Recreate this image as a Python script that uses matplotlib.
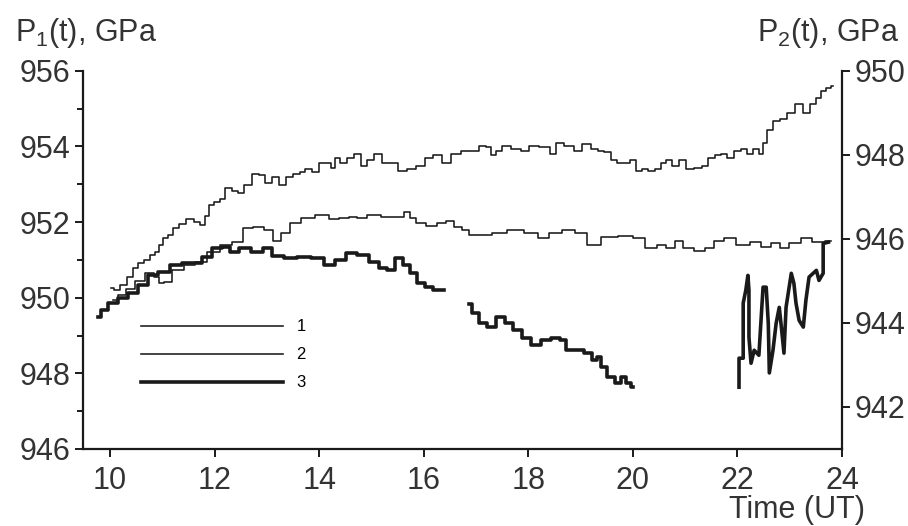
import matplotlib
matplotlib.use("Agg")
import matplotlib.pyplot as plt
import numpy as np

plt.rcParams["font.family"] = ["Liberation Sans", "DejaVu Sans"]
plt.rcParams["mathtext.fontset"] = "custom"
plt.rcParams["mathtext.rm"] = "Liberation Sans"
plt.rcParams["mathtext.it"] = "Liberation Sans"

INK = "#1a1a1a"
TXT = "#333333"

# curve 1, left scale (P1)
t1 = [10.02, 10.13, 10.25, 10.38, 10.48, 10.57, 10.71, 10.80, 10.90, 10.96,
      11.05, 11.15, 11.25, 11.38, 11.53, 11.67, 11.78, 11.86, 11.92, 12.07,
      12.15, 12.26, 12.39, 12.49, 12.64, 12.78, 12.91, 13.03, 13.16, 13.31,
      13.41, 13.58, 13.68, 13.79, 13.93, 14.06, 14.18, 14.27, 14.35, 14.46,
      14.60, 14.73, 14.85, 14.98, 15.13, 15.27, 15.42, 15.61, 15.75, 15.94,
      16.09, 16.26, 16.42, 16.61, 16.80, 16.99, 17.13, 17.24, 17.32, 17.43,
      17.57, 17.76, 17.95, 18.08, 18.33, 18.49, 18.58, 18.77, 18.97, 19.10,
      19.29, 19.39, 19.52, 19.64, 19.77, 19.90, 20.00, 20.10, 20.25, 20.34,
      20.50, 20.57, 20.69, 20.79, 20.96, 21.07, 21.25, 21.40, 21.49, 21.65,
      21.72, 21.88, 21.97, 22.16, 22.22, 22.39, 22.45, 22.51, 22.61, 22.74,
      22.87, 23.03, 23.18, 23.31, 23.45, 23.56, 23.64, 23.75, 23.83]
p1 = [950.25, 950.20, 950.33, 950.54, 950.78, 950.91, 950.99, 951.12, 951.20, 951.38,
      951.59, 951.65, 951.83, 951.96, 952.07, 951.99, 951.91, 952.17, 952.44, 952.52,
      952.62, 952.91, 952.83, 952.78, 952.97, 953.28, 953.23, 953.02, 953.18, 952.97,
      953.18, 953.28, 953.31, 953.41, 953.31, 953.57, 953.55, 953.44, 953.68, 953.57,
      953.70, 953.81, 953.49, 953.63, 953.81, 953.57, 953.55, 953.36, 953.39, 953.49,
      953.68, 953.76, 953.55, 953.81, 953.89, 953.89, 954.02, 953.97, 953.76, 953.89,
      954.02, 953.94, 953.89, 954.02, 953.97, 953.81, 954.10, 954.02, 953.89, 954.07,
      953.94, 953.89, 953.84, 953.63, 953.55, 953.57, 953.63, 953.36, 953.41, 953.36,
      953.41, 953.57, 953.63, 953.49, 953.63, 953.41, 953.44, 953.49, 953.68, 953.76,
      953.81, 953.68, 953.89, 953.94, 953.81, 953.94, 953.81, 954.10, 954.42, 954.68,
      954.73, 954.87, 955.13, 954.87, 955.13, 955.29, 955.47, 955.53, 955.60]

# curve 2, right scale (P2)
t2 = [10.06, 10.23, 10.38, 10.57, 10.77, 10.90, 10.96, 11.09, 11.28, 11.53,
      11.72, 11.97, 12.24, 12.43, 12.64, 12.84, 13.03, 13.20, 13.35, 13.54,
      13.77, 14.06, 14.31, 14.46, 14.66, 14.79, 15.04, 15.31, 15.56, 15.69,
      15.79, 15.90, 16.19, 16.32, 16.51, 16.65, 16.80, 16.93, 17.18, 17.43,
      17.76, 18.08, 18.28, 18.52, 18.77, 19.00, 19.25, 19.52, 19.90, 20.10,
      20.38, 20.54, 20.73, 20.88, 21.05, 21.30, 21.46, 21.63, 21.84, 22.11,
      22.36, 22.55, 22.74, 22.87, 23.12, 23.31, 23.56, 23.79]
p2 = [944.54, 944.66, 944.80, 944.99, 945.18, 945.09, 944.94, 944.97, 945.25, 945.37,
      945.44, 945.68, 945.85, 945.92, 946.25, 946.27, 946.20, 945.96, 946.15, 946.37,
      946.49, 946.56, 946.46, 946.49, 946.51, 946.49, 946.56, 946.51, 946.51, 946.63,
      946.49, 946.37, 946.30, 946.37, 946.42, 946.27, 946.20, 946.08, 946.08, 946.15,
      946.20, 946.13, 946.01, 946.13, 946.20, 946.13, 945.85, 946.04, 946.06, 946.01,
      945.77, 945.85, 945.77, 945.96, 945.77, 945.70, 945.77, 945.96, 946.01, 945.85,
      945.92, 945.80, 945.89, 945.77, 945.89, 946.01, 945.92, 945.96]

# curve 3, right scale (P2), recorded in three pieces
t3a = [9.77, 9.87, 10.06, 10.25, 10.44, 10.63, 10.82, 11.02, 11.28, 11.48,
       11.67, 11.86, 12.05, 12.24, 12.36, 12.55, 12.82, 13.01, 13.20, 13.45,
       13.70, 13.97, 14.21, 14.41, 14.60, 14.85, 15.04, 15.23, 15.36, 15.52,
       15.69, 15.80, 15.94, 16.09, 16.26, 16.38]
p3a = [944.14, 944.30, 944.47, 944.59, 944.71, 944.90, 945.14, 945.20, 945.37, 945.42,
       945.42, 945.56, 945.77, 945.80, 945.68, 945.77, 945.68, 945.77, 945.58, 945.54,
       945.56, 945.54, 945.37, 945.49, 945.66, 945.61, 945.44, 945.30, 945.25, 945.54,
       945.37, 945.18, 944.94, 944.85, 944.78, 944.78]
t3b = [16.86, 16.99, 17.13, 17.28, 17.47, 17.62, 17.80, 17.95, 18.14, 18.33,
       18.52, 18.68, 18.77, 18.97, 19.16, 19.29, 19.33, 19.44, 19.58, 19.73,
       19.83, 19.92, 20.00]
p3b = [944.44, 944.23, 943.99, 943.90, 944.14, 943.99, 943.83, 943.64, 943.47, 943.59,
       943.64, 943.59, 943.35, 943.35, 943.28, 943.11, 943.19, 942.95, 942.71, 942.57,
       942.71, 942.57, 942.47]
t3c = [22.03, 22.03, 22.11, 22.11, 22.16, 22.20, 22.22, 22.22, 22.26, 22.32,
       22.41, 22.49, 22.55, 22.59, 22.61, 22.68, 22.74, 22.80, 22.84, 22.89,
       22.93, 23.03, 23.08, 23.12, 23.18, 23.26, 23.31, 23.37, 23.51, 23.56,
       23.64, 23.64, 23.74]
p3c = [942.47, 943.16, 943.16, 944.47, 944.78, 945.13, 944.78, 943.66, 943.04, 943.35,
       943.23, 944.85, 944.85, 943.99, 942.81, 943.35, 943.99, 944.37, 943.90, 943.28,
       944.37, 945.18, 944.94, 944.47, 944.06, 943.90, 944.54, 945.09, 945.25, 945.01,
       945.18, 945.89, 945.92]

x_ticks = [10, 12, 14, 16, 18, 20, 22, 24]
left_ticks = [946, 948, 950, 952, 954, 956]
right_ticks = [942, 944, 946, 948, 950]

fig = plt.figure(figsize=(9.08, 5.26), dpi=100)
ax = fig.add_axes([0.0914, 0.1464, 0.8359, 0.7192])
ax2 = ax.twinx()

# recorder traces: short stair steps between samples
thin = dict(color=INK, lw=1.15, drawstyle="steps-mid")
thick = dict(color=INK, lw=2.6, drawstyle="steps-mid")

l1, = ax.plot(t1, p1, label="1", **thin)
l2, = ax2.plot(t2, p2, label="2", **thin)
l3, = ax2.plot(t3a, p3a, label="3", **thick)
ax2.plot(t3b, p3b, **thick)
ax2.plot(t3c, p3c, color=INK, lw=2.6)

ax.set_xlim(9.48, 24.0)
ax.set_ylim(946, 956)
ax2.set_ylim(941.0, 950)

ax.set_xticks(x_ticks)
ax.set_yticks(left_ticks)
ax.set_yticks(np.arange(947, 956, 2), minor=True)
ax2.set_yticks(right_ticks)

for a in (ax, ax2):
    a.spines["top"].set_visible(False)
    for s in a.spines.values():
        s.set_linewidth(1.6)
        s.set_color(INK)
ax.spines["right"].set_visible(False)
ax2.spines["left"].set_visible(False)
ax2.spines["bottom"].set_visible(False)

tick_kw = dict(labelsize=22, colors=INK, labelcolor=TXT, width=1.4)
ax.tick_params(axis="x", length=6, pad=6, **tick_kw)
ax.tick_params(axis="y", which="major", length=6, pad=3, **tick_kw)
ax.tick_params(axis="y", which="minor", length=4, width=1.4, colors=INK)
ax2.tick_params(axis="y", length=6, pad=3, **tick_kw)

fig.text(15 / 908, 1 - 41 / 526, r"P$_\mathregular{1}$(t), GPa", fontsize=22,
         color=TXT, ha="left", va="baseline")
fig.text(899 / 908, 1 - 41 / 526, r"P$_\mathregular{2}$(t), GPa", fontsize=22,
         color=TXT, ha="right", va="baseline")
fig.text(797 / 908, 1 - 518 / 526, "Time (UT)", fontsize=22,
         color=TXT, ha="center", va="baseline")

ax.legend(handles=[l1, l2, l3], loc="upper left",
          bbox_to_anchor=(128 / 908, 1 - 306 / 526),
          bbox_transform=fig.transFigure, frameon=False, fontsize=12,
          handlelength=8.5, handletextpad=0.8, labelspacing=0.78,
          borderpad=0.3)

fig.savefig("out.png", dpi=100)
